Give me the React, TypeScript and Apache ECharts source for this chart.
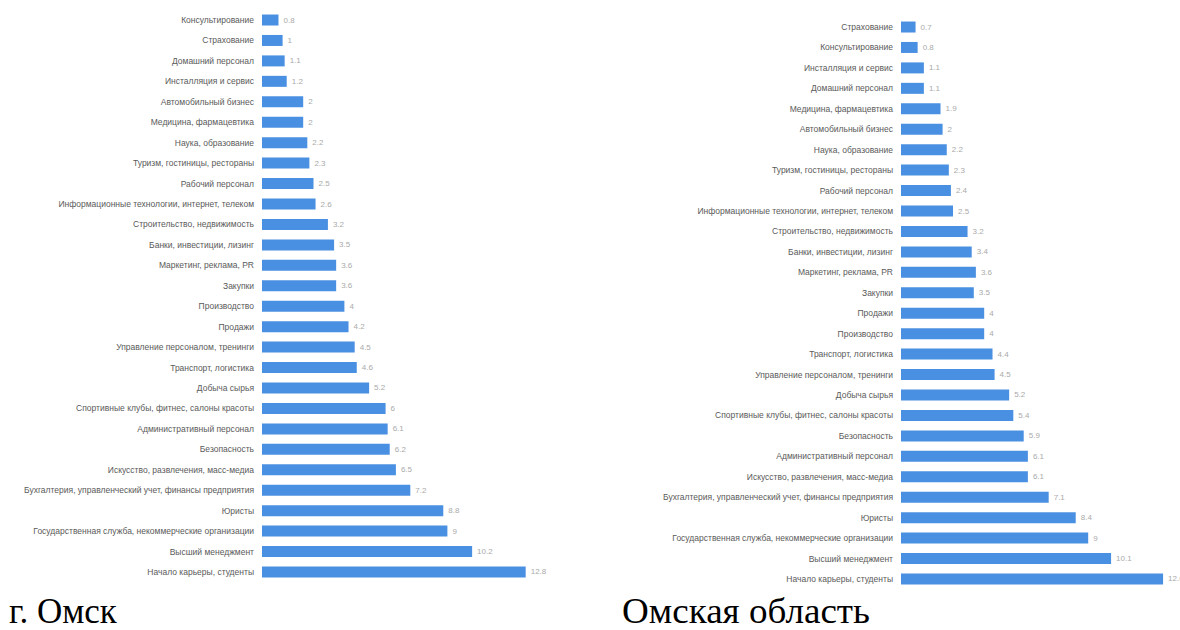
import React, { useEffect, useRef } from "react";
import * as echarts from "echarts";

const cityCategories = [
  "Консультирование",
  "Страхование",
  "Домашний персонал",
  "Инсталляция и сервис",
  "Автомобильный бизнес",
  "Медицина, фармацевтика",
  "Наука, образование",
  "Туризм, гостиницы, рестораны",
  "Рабочий персонал",
  "Информационные технологии, интернет, телеком",
  "Строительство, недвижимость",
  "Банки, инвестиции, лизинг",
  "Маркетинг, реклама, PR",
  "Закупки",
  "Производство",
  "Продажи",
  "Управление персоналом, тренинги",
  "Транспорт, логистика",
  "Добыча сырья",
  "Спортивные клубы, фитнес, салоны красоты",
  "Административный персонал",
  "Безопасность",
  "Искусство, развлечения, масс-медиа",
  "Бухгалтерия, управленческий учет, финансы предприятия",
  "Юристы",
  "Государственная служба, некоммерческие организации",
  "Высший менеджмент",
  "Начало карьеры, студенты",
];
const cityValues = [
  0.8, 1, 1.1, 1.2, 2, 2, 2.2, 2.3, 2.5, 2.6, 3.2, 3.5, 3.6, 3.6, 4, 4.2, 4.5,
  4.6, 5.2, 6, 6.1, 6.2, 6.5, 7.2, 8.8, 9, 10.2, 12.8,
];

const regionCategories = [
  "Страхование",
  "Консультирование",
  "Инсталляция и сервис",
  "Домашний персонал",
  "Медицина, фармацевтика",
  "Автомобильный бизнес",
  "Наука, образование",
  "Туризм, гостиницы, рестораны",
  "Рабочий персонал",
  "Информационные технологии, интернет, телеком",
  "Строительство, недвижимость",
  "Банки, инвестиции, лизинг",
  "Маркетинг, реклама, PR",
  "Закупки",
  "Продажи",
  "Производство",
  "Транспорт, логистика",
  "Управление персоналом, тренинги",
  "Добыча сырья",
  "Спортивные клубы, фитнес, салоны красоты",
  "Безопасность",
  "Административный персонал",
  "Искусство, развлечения, масс-медиа",
  "Бухгалтерия, управленческий учет, финансы предприятия",
  "Юристы",
  "Государственная служба, некоммерческие организации",
  "Высший менеджмент",
  "Начало карьеры, студенты",
];
const regionValues = [
  0.7, 0.8, 1.1, 1.1, 1.9, 2, 2.2, 2.3, 2.4, 2.5, 3.2, 3.4, 3.6, 3.5, 4, 4, 4.4,
  4.5, 5.2, 5.4, 5.9, 6.1, 6.1, 7.1, 8.4, 9, 10.1, 12.6,
];

const captions = ["г. Омск", "Омская область"];

const BAR_COLOR = "#4a90e2";
const LABEL_FONT = "Arial, 'Liberation Sans', sans-serif";
const CAPTION_FONT = "35px 'Liberation Serif', 'Times New Roman', serif";

export default function App() {
  const ref = useRef<HTMLDivElement>(null);

  useEffect(() => {
    if (!ref.current) return;
    const chart = echarts.init(ref.current, undefined, { renderer: "svg" });

    const yAxisCommon = (cats: string[], gridIndex: number) => ({
      type: "category" as const,
      gridIndex,
      data: cats,
      inverse: true,
      axisLine: { show: false },
      axisTick: { show: false },
      splitLine: { show: false },
      axisLabel: {
        color: "#5a5a5a",
        fontSize: 8.5,
        fontFamily: LABEL_FONT,
        margin: 8,
      },
    });

    const xAxisCommon = (gridIndex: number, max: number) => ({
      type: "value" as const,
      gridIndex,
      min: 0,
      max,
      show: false,
    });

    const seriesCommon = (data: number[], idx: number) => ({
      type: "bar" as const,
      xAxisIndex: idx,
      yAxisIndex: idx,
      data,
      barWidth: 11,
      itemStyle: { color: BAR_COLOR },
      label: {
        show: true,
        position: "right" as const,
        distance: 5,
        color: "#aaa",
        fontSize: 8,
        fontFamily: LABEL_FONT,
      },
    });

    chart.setOption({
      animation: false,
      backgroundColor: "#fff",
      grid: [
        { left: 262, top: 9.8, width: 20.6 * 14, height: 572.4 },
        { left: 901, top: 16.8, width: 20.8 * 13, height: 572.4 },
      ],
      xAxis: [xAxisCommon(0, 14), xAxisCommon(1, 13)],
      yAxis: [yAxisCommon(cityCategories, 0), yAxisCommon(regionCategories, 1)],
      series: [seriesCommon(cityValues, 0), seriesCommon(regionValues, 1)],
      graphic: [
        {
          type: "text",
          left: 9,
          top: 594,
          style: {
            text: captions[0],
            font: CAPTION_FONT,
            fill: "#000",
          },
        },
        {
          type: "text",
          left: 622,
          top: 594,
          scaleX: 1.06,
          style: {
            text: captions[1],
            font: CAPTION_FONT,
            fill: "#000",
          },
        },
      ],
    });

    return () => chart.dispose();
  }, []);

  return (
    <div
      ref={ref}
      style={{ position: "absolute", left: 0, top: 0, width: 1180, height: 630 }}
    />
  );
}
